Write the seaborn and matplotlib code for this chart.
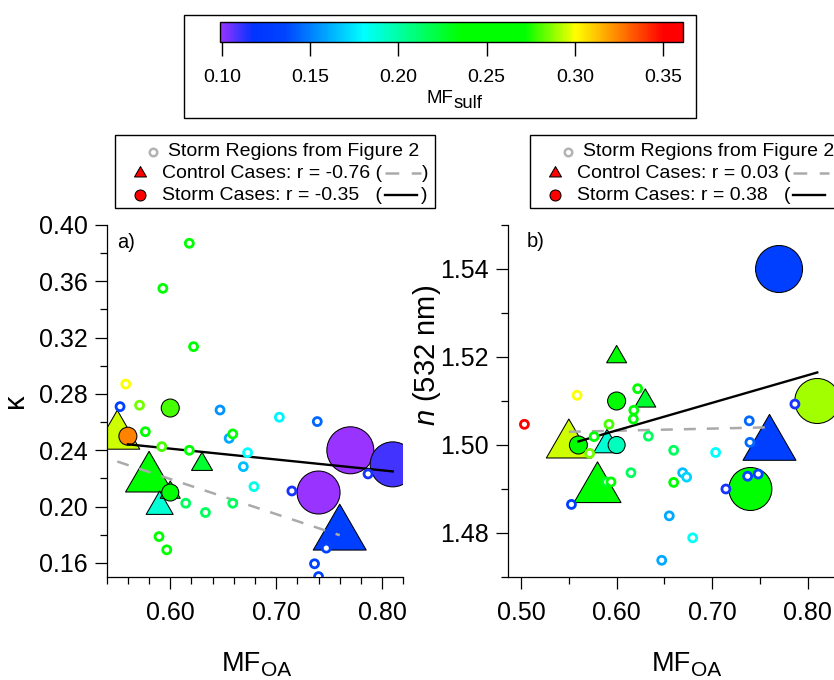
import numpy as np
import matplotlib
matplotlib.use("Agg")
import matplotlib.pyplot as plt
import seaborn as sns
from matplotlib.colors import LinearSegmentedColormap, Normalize
from matplotlib.path import Path
from matplotlib.markers import MarkerStyle
from matplotlib.lines import Line2D
from matplotlib.patches import Rectangle
from matplotlib.cm import ScalarMappable
from matplotlib.ticker import MultipleLocator, FormatStrFormatter

# ---------------- data ----------------
# storm regions from Figure 2 (open circles), panel a
region_a_mfoa = [0.618, 0.593, 0.622, 0.558, 0.5526, 0.571, 0.5765, 0.592, 0.618,
                 0.647, 0.6556, 0.659, 0.673, 0.669, 0.679, 0.703, 0.7388, 0.7148,
                 0.7867, 0.6146, 0.6332, 0.659, 0.5894, 0.5967, 0.7362, 0.740, 0.7473]
region_a_kappa = [0.387, 0.355, 0.3136, 0.287, 0.271, 0.272, 0.2532, 0.2426, 0.240,
                  0.2686, 0.2485, 0.2516, 0.2383, 0.2284, 0.2142, 0.2635, 0.2604, 0.2111,
                  0.2232, 0.2024, 0.1958, 0.2024, 0.1787, 0.1693, 0.1594, 0.1503, 0.1705]
region_a_sulf = [0.25, 0.235, 0.25, 0.30, 0.13, 0.285, 0.25, 0.28, 0.255,
                 0.155, 0.16, 0.26, 0.18, 0.165, 0.185, 0.178, 0.145, 0.115,
                 0.115, 0.215, 0.215, 0.215, 0.235, 0.24, 0.135, 0.135, 0.135]

# storm regions from Figure 2 (open circles), panel b
region_b_mfoa = [0.5035, 0.5586, 0.5527, 0.5764, 0.5718, 0.592, 0.5896, 0.5941, 0.622,
                 0.618, 0.6175, 0.6332, 0.615, 0.6597, 0.6597, 0.6691, 0.6733, 0.6551,
                 0.6796, 0.6472, 0.7036, 0.7388, 0.7395, 0.7371, 0.7482, 0.7144, 0.7866]
region_b_n = [1.5047, 1.5113, 1.4865, 1.5019, 1.4981, 1.5047, 1.4916, 1.4916, 1.5128,
              1.5079, 1.5059, 1.5020, 1.4937, 1.4988, 1.4915, 1.4937, 1.4927, 1.4839,
              1.4789, 1.4738, 1.4983, 1.5055, 1.5006, 1.4929, 1.4934, 1.4900, 1.5093]
region_b_sulf = [0.355, 0.30, 0.13, 0.25, 0.285, 0.28, 0.225, 0.24, 0.25,
                 0.25, 0.245, 0.215, 0.215, 0.215, 0.255, 0.165, 0.17, 0.16,
                 0.182, 0.16, 0.18, 0.145, 0.145, 0.135, 0.135, 0.115, 0.115]

# control cases (triangles)
control_mfoa = [0.55, 0.58, 0.59, 0.60, 0.63, 0.76]
control_kappa = [0.25, 0.22, 0.20, 0.21, 0.23, 0.18]
control_n = [1.50, 1.49, 1.50, 1.52, 1.51, 1.50]
control_sulf = [0.295, 0.245, 0.19, 0.24, 0.225, 0.13]
control_width_px = [45, 47, 27, 20, 21, 53]

# storm cases (filled circles)
storm_mfoa = [0.56, 0.60, 0.60, 0.77, 0.81, 0.74]
storm_kappa = [0.25, 0.27, 0.21, 0.24, 0.23, 0.21]
storm_n = [1.50, 1.51, 1.50, 1.54, 1.51, 1.49]
storm_sulf_a = [0.325, 0.28, 0.245, 0.10, 0.11, 0.10]
storm_sulf_b = [0.245, 0.245, 0.195, 0.13, 0.29, 0.25]
storm_diam_px = [18, 18, 17, 47, 45, 43]

legend_a = ["Storm Regions from Figure 2", "Control Cases: r = -0.76 (", "Storm Cases: r = -0.35   ("]
legend_b = ["Storm Regions from Figure 2", "Control Cases: r = 0.03 (", "Storm Cases: r = 0.38   ("]
cbar_ticks = [0.10, 0.15, 0.20, 0.25, 0.30, 0.35]

# ---------------- style ----------------
W, H = 834, 680
plt.rcParams['font.family'] = ['Liberation Sans', 'DejaVu Sans']
plt.rcParams['mathtext.fontset'] = 'custom'
plt.rcParams['mathtext.rm'] = 'Liberation Sans'
plt.rcParams['mathtext.it'] = 'Liberation Sans:italic'

cmap = LinearSegmentedColormap.from_list("igor_rainbow", [
    (0.00, '#9933ff'), (0.07, '#0033ff'), (0.14, '#0044ff'), (0.31, '#00ffff'),
    (0.52, '#00ff00'), (0.66, '#00ff00'), (0.77, '#ffff00'), (0.96, '#ff0000'),
    (1.00, '#ff0000')])
norm = Normalize(0.099, 0.361)

tri = MarkerStyle(Path([(0, 0.5774), (-0.5, -0.2887), (0.5, -0.2887), (0, 0.5774)],
                       [Path.MOVETO, Path.LINETO, Path.LINETO, Path.CLOSEPOLY]))
PT = 72.0 / 100.0  # points per pixel


def tri_s(wpx):
    return (np.asarray(wpx) * PT / 0.866) ** 2


def circ_s(dpx):
    return (np.asarray(dpx) * PT) ** 2


fig = plt.figure(figsize=(W / 100, H / 100), dpi=100)
fig.patch.set_facecolor('white')

bot, top = 1 - 577 / H, 1 - 225 / H
AW = 403.3 - 106.7
BW = 866 - 507.7
axA = fig.add_axes([106.7 / W, bot, AW / W, top - bot])
axB = fig.add_axes([507.7 / W, bot, BW / W, top - bot])


def draw_panel(ax, rx, ry, rc, cy, sy, sc):
    sns.scatterplot(x=control_mfoa, y=cy, hue=control_sulf, palette=cmap, hue_norm=norm,
                    marker=tri, s=tri_s(control_width_px), edgecolor='k', linewidth=0.75,
                    legend=False, ax=ax, zorder=2)
    sns.scatterplot(x=storm_mfoa, y=sy, hue=sc, palette=cmap, hue_norm=norm,
                    marker='o', s=circ_s(storm_diam_px), edgecolor='k', linewidth=0.75,
                    legend=False, ax=ax, zorder=3)
    sns.regplot(x=control_mfoa, y=cy, ax=ax, scatter=False, ci=None, truncate=True,
                color='#aaaaaa', line_kws=dict(lw=1.8, dashes=(4.8, 4.4), zorder=4))
    sns.regplot(x=storm_mfoa, y=sy, ax=ax, scatter=False, ci=None, truncate=True,
                color='k', line_kws=dict(lw=1.7, zorder=4))
    sns.scatterplot(x=rx, y=ry, hue=rc, palette=cmap, hue_norm=norm, marker='o',
                    s=(8.0 * PT) ** 2, legend=False, ax=ax, zorder=5)
    coll = ax.collections[-1]
    fc = coll.get_facecolors()
    coll.set_edgecolors(fc)
    coll.set_facecolors('white')
    coll.set_linewidths(2.0)


draw_panel(axA, region_a_mfoa, region_a_kappa, region_a_sulf, control_kappa, storm_kappa, storm_sulf_a)
draw_panel(axB, region_b_mfoa, region_b_n, region_b_sulf, control_n, storm_n, storm_sulf_b)

axA.set_xlim(0.54, 0.82)
axA.set_ylim(0.15, 0.40)
axA.xaxis.set_major_locator(MultipleLocator(0.1))
axA.xaxis.set_minor_locator(MultipleLocator(0.02))
axA.yaxis.set_major_locator(MultipleLocator(0.04))
axA.yaxis.set_minor_locator(MultipleLocator(0.02))

axB.set_xlim(0.486, 0.861)
axB.set_ylim(1.47, 1.55)
axB.xaxis.set_major_locator(MultipleLocator(0.1))
axB.xaxis.set_minor_locator(MultipleLocator(0.05))
axB.yaxis.set_major_locator(MultipleLocator(0.02))
axB.yaxis.set_minor_locator(MultipleLocator(0.01))

for ax in (axA, axB):
    ax.set_facecolor('none')
    for s in ('top', 'right'):
        ax.spines[s].set_visible(False)
    for s in ('left', 'bottom'):
        ax.spines[s].set_linewidth(0.9)
    ax.tick_params(which='major', length=8.6, width=0.9, labelsize=18, direction='out')
    ax.tick_params(which='minor', length=4.8, width=0.9, direction='out')
    ax.tick_params(axis='y', which='major', pad=5)
    ax.tick_params(axis='x', which='major', pad=9)
    ax.xaxis.set_major_formatter(FormatStrFormatter('%.2f'))
    ax.yaxis.set_major_formatter(FormatStrFormatter('%.2f'))
    ax.set_xlabel('')
    ax.set_ylabel('')

axA.set_ylabel('κ', fontsize=21)
axA.yaxis.set_label_coords((29 - 106.7) / AW, 0.5)
axB.set_ylabel(r'$\mathit{n}$ (532 nm)', fontsize=21)
axB.yaxis.set_label_coords((443 - 507.7) / BW, (577 - 355) / 352)

axA.text((116.7 - 106.7) / AW, (577 - 243) / 352, 'a)', fontsize=14.5,
         ha='left', va='center', transform=axA.transAxes)
axB.text((527 - 507.7) / BW, (577 - 242) / 352, 'b)', fontsize=14.5,
         ha='left', va='center', transform=axB.transAxes)

# x labels MF_OA (main + subscript)
for jx in (260.6, 691.5):
    fig.text(jx / W, 1 - 671 / H, 'MF', fontsize=19.5, ha='right', va='baseline')
    fig.text(jx / W, 1 - 675.5 / H, 'OA', fontsize=15, ha='left', va='baseline')

# ---------------- colorbar ----------------
fig.add_artist(Rectangle((184 / W, 1 - 118 / H), 512 / W, 103 / H, transform=fig.transFigure,
                         fill=False, ec='k', lw=1))
cax = fig.add_axes([220 / W, 1 - 42.3 / H, 462.7 / W, 20.6 / H])
cb = fig.colorbar(ScalarMappable(norm=norm, cmap=cmap), cax=cax, orientation='horizontal')
cb.set_ticks(cbar_ticks)
cb.ax.xaxis.set_major_formatter(FormatStrFormatter('%.2f'))
cb.ax.tick_params(length=10, width=1, labelsize=14, pad=9)
cb.ax.minorticks_off()
cb.outline.set_linewidth(1)
fig.text(453 / W, 1 - 103.3 / H, 'MF', fontsize=13.5, ha='right', va='baseline')
fig.text(454 / W, 1 - 108 / H, 'sulf', fontsize=13.5, ha='left', va='baseline')

# ---------------- legends ----------------
rows = [151.7, 173.3, 195.0]
LFS = 14


def draw_legend(x0, wbox, mx1, mx23, t1x, t23x, labels):
    fig.add_artist(Rectangle((x0 / W, 1 - 208 / H), wbox / W, 73 / H, transform=fig.transFigure,
                             fill=False, ec='k', lw=1))
    fig.add_artist(Line2D([mx1 / W], [1 - rows[0] / H], transform=fig.transFigure, marker='o',
                          ms=5.4, mfc='white', mec='#b3b3b3', mew=1.8, ls='none'))
    fig.add_artist(Line2D([mx23 / W], [1 - rows[1] / H], transform=fig.transFigure, marker=tri,
                          ms=12 * PT / 0.866, mfc='#ff0000', mec='k', mew=0.75, ls='none'))
    fig.add_artist(Line2D([mx23 / W], [1 - rows[2] / H], transform=fig.transFigure, marker='o',
                          ms=11 * PT, mfc='#ff0000', mec='k', mew=0.75, ls='none'))
    fig.text(t1x / W, 1 - rows[0] / H, labels[0], fontsize=LFS, ha='left', va='center')
    t2 = fig.text(t23x / W, 1 - rows[1] / H, labels[1], fontsize=LFS, ha='left', va='center')
    t3 = fig.text(t23x / W, 1 - rows[2] / H, labels[2], fontsize=LFS, ha='left', va='center')
    return t2, t3


lt_a = draw_legend(115, 320, 153.3, 140, 168.3, 161.7, legend_a)
lt_b = draw_legend(530, 400, 568, 555, 583, 576.7, legend_b)

fig.canvas.draw()
r = fig.canvas.get_renderer()
for t2, t3 in (lt_a, lt_b):
    bb2 = t2.get_window_extent(r)
    x1 = bb2.x1 + 3
    fig.add_artist(Line2D([x1 / W, (x1 + 36) / W], [1 - rows[1] / H] * 2, transform=fig.transFigure,
                          color='#aaaaaa', lw=1.8, dashes=(5.5, 5.0)))
    if x1 + 45 < W:
        fig.text((x1 + 37) / W, 1 - rows[1] / H, ')', fontsize=LFS, ha='left', va='center')
    bb3 = t3.get_window_extent(r)
    x1 = bb3.x1 + 3
    fig.add_artist(Line2D([x1 / W, (x1 + 32) / W], [1 - rows[2] / H] * 2, transform=fig.transFigure,
                          color='k', lw=1.7))
    if x1 + 44 < W:
        fig.text((x1 + 36) / W, 1 - rows[2] / H, ')', fontsize=LFS, ha='left', va='center')

fig.savefig('out.png', dpi=100, facecolor='white')
